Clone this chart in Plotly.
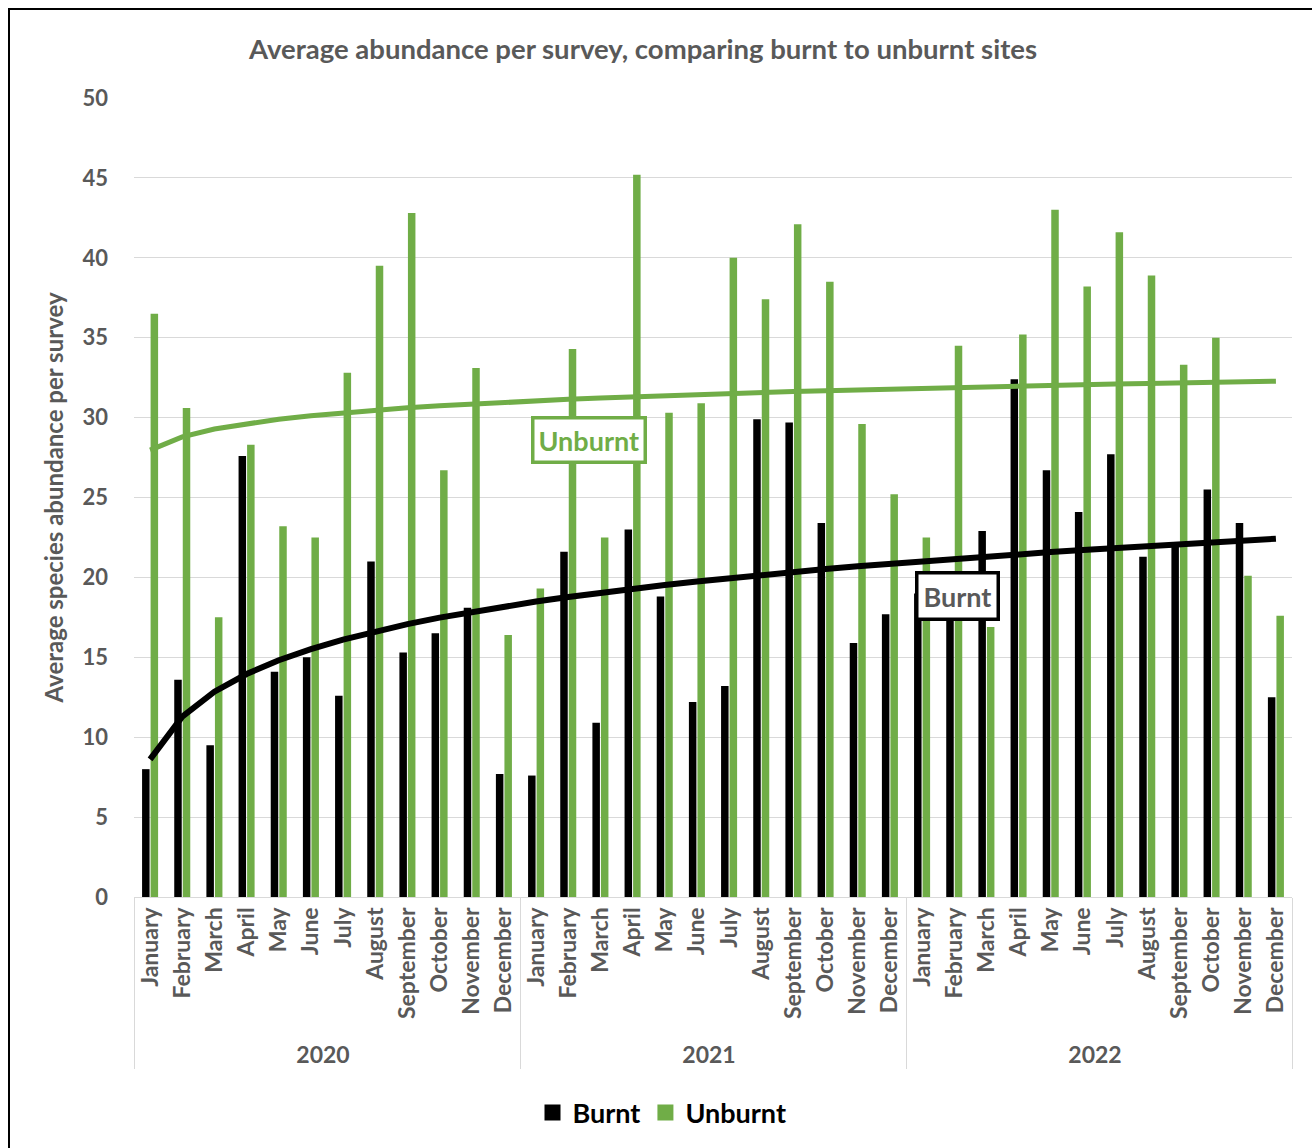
import numpy as np
import plotly.graph_objects as go

months = ["January", "February", "March", "April", "May", "June", "July",
          "August", "September", "October", "November", "December"]
years = ["2020", "2021", "2022"]

burnt = [8.0, 13.6, 9.5, 27.6, 14.1, 15.0, 12.6, 21.0, 15.3, 16.5, 18.1, 7.7,
         7.6, 21.6, 10.9, 23.0, 18.8, 12.2, 13.2, 29.9, 29.7, 23.4, 15.9, 17.7,
         19.0, 18.5, 22.9, 32.4, 26.7, 24.1, 27.7, 21.3, 21.9, 25.5, 23.4, 12.5]
unburnt = [36.5, 30.6, 17.5, 28.3, 23.2, 22.5, 32.8, 39.5, 42.8, 26.7, 33.1, 16.4,
           19.3, 34.3, 22.5, 45.2, 30.3, 30.9, 40.0, 37.4, 42.1, 38.5, 29.6, 25.2,
           22.5, 34.5, 16.9, 35.2, 43.0, 38.2, 41.6, 38.9, 33.3, 35.0, 20.1, 17.6]

x_year = [y for y in years for _ in months]
x_month = [m for _ in years for m in months]
xcat = [x_year, x_month]

GREEN = "#70ad47"
GREY = "#595959"
FONT = "Lato"

t = np.arange(1, len(burnt) + 1)
def log_fit(vals):
    b, a = np.polyfit(np.log(t), np.array(vals), 1)
    return a + b * np.log(t)

fig = go.Figure()
fig.add_trace(go.Bar(x=xcat, y=burnt, name="Burnt", marker_color="black",
                     marker_line_width=0, showlegend=False))
fig.add_trace(go.Bar(x=xcat, y=unburnt, name="Unburnt", marker_color=GREEN,
                     marker_line_width=0, showlegend=False))
fig.add_trace(go.Scatter(x=xcat, y=log_fit(burnt), mode="lines",
                         line=dict(color="black", width=6), showlegend=False,
                         hoverinfo="skip"))
fig.add_trace(go.Scatter(x=xcat, y=log_fit(unburnt), mode="lines",
                         line=dict(color=GREEN, width=5), showlegend=False,
                         hoverinfo="skip"))
# legend entries with larger square keys
for name, col in [("Burnt", "black"), ("Unburnt", GREEN)]:
    fig.add_trace(go.Scatter(x=[[years[0]], [months[0]]], y=[None], mode="markers",
                             name=name, marker=dict(symbol="square", size=16,
                                                    color=col),
                             hoverinfo="skip"))

W, H = 1312, 1148
L, R, T, B = 134, 20, 98, 251
pw, ph = W - L - R, H - T - B
def px(xp): return (xp - L) / pw
def py(yp): return (H - B - yp) / ph

fig.update_layout(
    width=W, height=H,
    margin=dict(l=L, r=R, t=T, b=B, autoexpand=False),
    paper_bgcolor="white", plot_bgcolor="white",
    font=dict(family=FONT, color=GREY),
    barmode="group", bargap=0.47, bargroupgap=0.12,
    title=dict(text="Average abundance per survey, comparing burnt to unburnt sites",
               font=dict(family=FONT, size=27.5, color=GREY, weight="bold"),
               xref="container", x=643 / W, xanchor="center",
               yref="container", y=1 - 49 / H, yanchor="middle"),
    legend=dict(orientation="h", x=px(662), xanchor="center", y=py(1113),
                yanchor="middle", font=dict(family=FONT, size=27, color="black",
                                             weight="bold"),
                itemwidth=30, traceorder="normal"),
    showlegend=True,
)
fig.update_yaxes(range=[0, 50], dtick=5, showgrid=True, gridcolor="#d9d9d9",
                 gridwidth=1.3, zeroline=False, showline=False,
                 tickfont=dict(family=FONT, size=22, color=GREY, weight="bold"),
                 ticks="", ticklabelstandoff=25, automargin=False,
                 title=dict(text="Average species abundance per survey",
                            font=dict(family=FONT, size=24, color=GREY, weight="bold"),
                            standoff=12))
fig.update_xaxes(type="multicategory", showline=True, linecolor="#d9d9d9",
                 linewidth=1.3, showdividers=True, dividercolor="#d9d9d9",
                 dividerwidth=1.3, tickangle=-90, ticks="",
                 tickfont=dict(family=FONT, size=23, color=GREY, weight="bold"),
                 automargin=False, range=[-0.5, 35.5])

fig.add_annotation(x=px(589), y=py(440), xref="paper", yref="paper",
                   xanchor="center", yanchor="middle",
                   text="Unburnt", showarrow=False,
                   font=dict(family=FONT, size=27, color=GREEN, weight="bold"),
                   bgcolor="white", bordercolor=GREEN, borderwidth=3.5, borderpad=4)
fig.add_annotation(x=px(957), y=py(596), xref="paper", yref="paper",
                   xanchor="center", yanchor="middle",
                   text="Burnt", showarrow=False,
                   font=dict(family=FONT, size=27, color=GREY, weight="bold"),
                   bgcolor="white", bordercolor="black", borderwidth=3.5, borderpad=5)

fig.add_shape(type="rect", xref="paper", yref="paper",
              x0=px(9), x1=px(1330), y0=py(1170), y1=py(9),
              line=dict(color="black", width=2), layer="above")

fig.write_html("out.html")
